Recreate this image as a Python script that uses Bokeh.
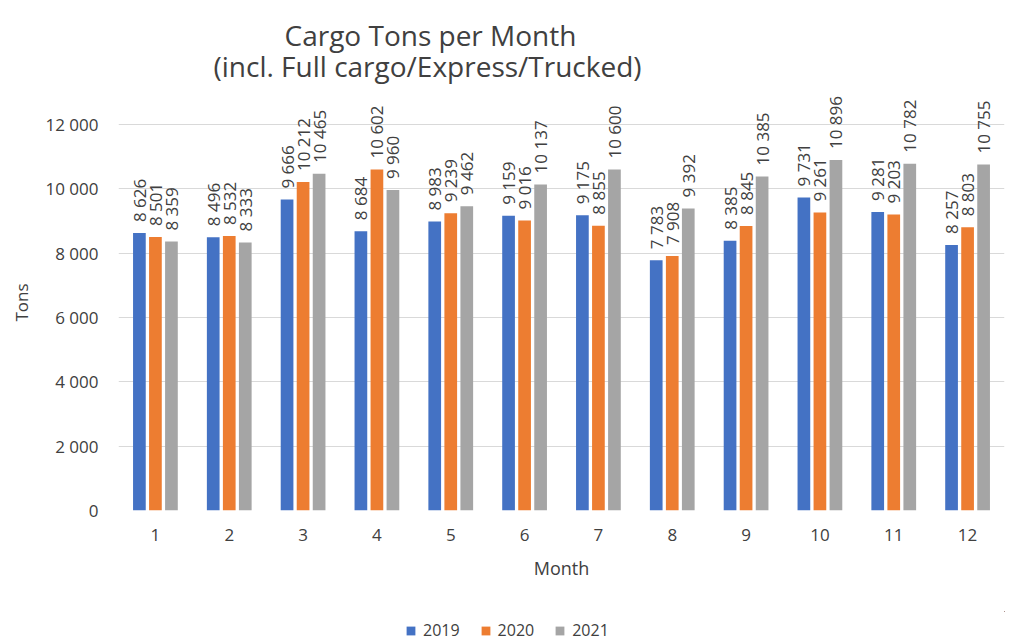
import math
from bokeh.plotting import figure
from bokeh.layouts import column
from bokeh.models import (ColumnDataSource, FixedTicker, Legend, LegendItem, Title, Range1d)
from bokeh.transform import dodge
from bokeh.core.properties import value
from bokeh.embed import file_html
from bokeh.resources import INLINE

months = [1, 2, 3, 4, 5, 6, 7, 8, 9, 10, 11, 12]
y2019 = [8626, 8496, 9666, 8684, 8983, 9159, 9175, 7783, 8385, 9731, 9281, 8257]
y2020 = [8501, 8532, 10212, 10602, 9239, 9016, 8855, 7908, 8845, 9261, 9203, 8803]
y2021 = [8359, 8333, 10465, 9960, 9462, 10137, 10600, 9392, 10385, 10896, 10782, 10755]
series_names = ["2019", "2020", "2021"]
colors = ["#4472C4", "#ED7D31", "#A5A5A5"]
y_ticks = [0, 2000, 4000, 6000, 8000, 10000, 12000]
y_tick_labels = ["0", "2 000", "4 000", "6 000", "8 000", "10 000", "12 000"]
title_lines = ["Cargo Tons per Month", "(incl. Full cargo/Express/Trucked)"]


def fmt(v):
    return f"{v:,}".replace(",", " ")


FONT = "Open Sans"
TXT = "#404040"

src = ColumnDataSource(dict(
    m=months,
    y2019=y2019, y2020=y2020, y2021=y2021,
    l2019=[fmt(v) for v in y2019],
    l2020=[fmt(v) for v in y2020],
    l2021=[fmt(v) for v in y2021],
))

p = figure(frame_width=886, frame_height=426, output_backend="svg", toolbar_location=None,
           x_range=(0.5, 12.5), y_range=(0, 13243),
           min_border_left=118, min_border_right=15, min_border_top=84,
           min_border_bottom=101)
p.outline_line_color = None
p.background_fill_color = "white"

offsets = [-0.217, 0.0, 0.217]
bw = 0.172
for name, col, off in zip(series_names, colors, offsets):
    p.vbar(x=dodge("m", off), top="y" + name, width=bw, source=src,
           fill_color=col, line_color=None)
    p.text(x=dodge("m", off), y="y" + name, text="l" + name, source=src,
           angle=math.pi / 2, text_align="left", text_baseline="middle",
           y_offset=-11,
           text_font=value(FONT), text_font_size="17px", text_color=TXT)

p.xaxis.ticker = FixedTicker(ticks=months)
p.yaxis.ticker = FixedTicker(ticks=y_ticks)
p.yaxis.major_label_overrides = {t: l for t, l in zip(y_ticks, y_tick_labels)}

for ax in (p.xaxis, p.yaxis):
    ax.axis_line_color = None
    ax.major_tick_line_color = None
    ax.minor_tick_line_color = None
    ax.major_tick_out = 0
    ax.major_tick_in = 0
    ax.minor_tick_out = 0
    ax.major_label_text_font = FONT
    ax.major_label_text_font_size = "17px"
    ax.major_label_text_color = TXT

p.xaxis.axis_label = "Month"
p.xaxis.axis_label_text_font = FONT
p.xaxis.axis_label_text_font_size = "18px"
p.xaxis.axis_label_text_font_style = "normal"
p.xaxis.axis_label_text_color = TXT
p.xaxis.major_label_standoff = 18
p.xaxis.axis_label_standoff = 12
p.yaxis.major_label_standoff = 20

p.xgrid.grid_line_color = None
p.ygrid.grid_line_color = "#D9D9D9"
p.ygrid.grid_line_width = 1

# Titles in the "above" panel (first added sits nearest the frame)
p.add_layout(Title(text=title_lines[1], align="left", offset=95, standoff=0,
                   text_font=FONT, text_font_size="28px",
                   text_font_style="normal", text_color=TXT), "above")
p.add_layout(Title(text=title_lines[0], align="left", offset=166, standoff=-18,
                   text_font=FONT, text_font_size="28px",
                   text_font_style="normal", text_color=TXT), "above")
# y-axis title
p.add_layout(Title(text="Tons", align="left", offset=189, standoff=16,
                   vertical_align="top",
                   text_font=FONT, text_font_size="17px",
                   text_font_style="normal", text_color=TXT), "left")

# Legend row as a small separate figure (its frame is aligned with the main one)
pl = figure(width=1019, height=30, output_backend="svg", toolbar_location=None,
            x_range=Range1d(-3, -2), y_range=Range1d(-3, -2),
            x_axis_type=None, y_axis_type=None, min_border=0)
pl.outline_line_color = None
pl.xgrid.grid_line_color = None
pl.ygrid.grid_line_color = None
items = []
for name, col in zip(series_names, colors):
    r = pl.vbar(x="m", top="y" + name, width=0.1, source=src,
                fill_color=col, line_color=None)
    items.append(LegendItem(label=name, renderers=[r], index=0))
legend = Legend(items=items, orientation="horizontal", location=(287, 0),
                label_text_font=FONT, label_text_font_size="16px",
                label_text_color=TXT, glyph_width=11, glyph_height=11,
                label_height=16, label_standoff=7, spacing=20,
                padding=0, margin=0, border_line_color=None,
                background_fill_alpha=0)
pl.add_layout(legend, "center")

layout = column(p, pl, spacing=0)
open("out.html", "w").write(file_html(layout, INLINE))
